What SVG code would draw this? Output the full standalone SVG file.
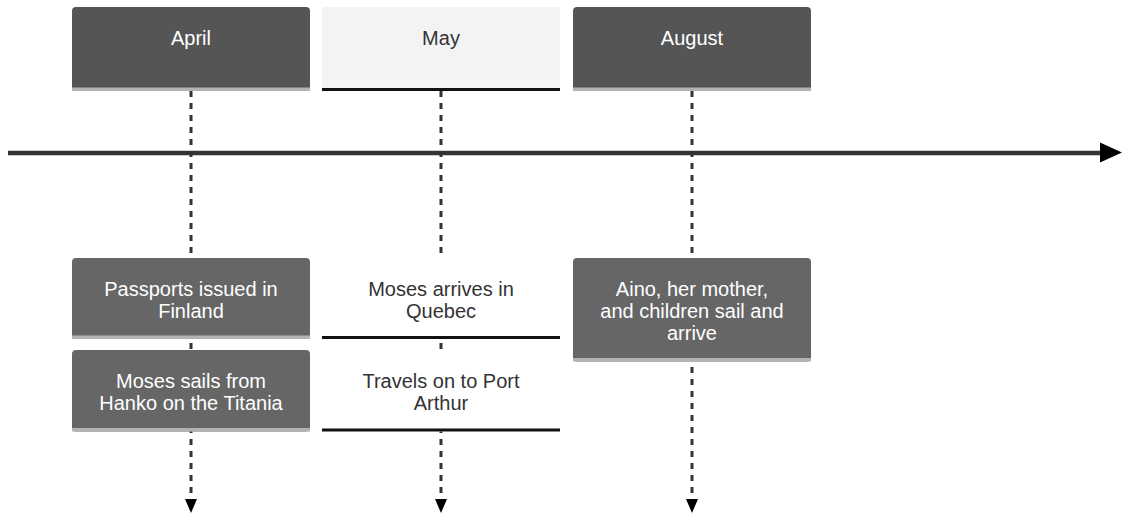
<svg xmlns="http://www.w3.org/2000/svg" width="1122" height="514" viewBox="0 0 1122 514">
  <style>
    text { font-family: "Liberation Sans", Arial, sans-serif; font-size: 20px; text-anchor: middle; }
    .light { fill: #ffffff; }
    .dark { fill: #333333; }
    .head { fill: #555555; }
    .event { fill: #666666; }
    .band { fill: #b3b3b3; }
    .rule { fill: #111111; }
    .plain { fill: #ffffff; }
    .pale { fill: #f3f3f3; }
    .drop { stroke: #333333; stroke-width: 3; stroke-dasharray: 6 6; fill: none; }
  </style>
  <defs>
    <path id="tipDown" d="M-6,0 L6,0 L0,14 Z" fill="#000000"/>
  </defs>

  <!-- connectors: month drop lines and the main timeline -->
  <g id="connectors">
    <line class="drop" x1="191" y1="91" x2="191" y2="499"/>
    <line class="drop" x1="441" y1="91" x2="441" y2="499"/>
    <line class="drop" x1="692" y1="91" x2="692" y2="499"/>
    <use href="#tipDown" x="191" y="499"/>
    <use href="#tipDown" x="441" y="499"/>
    <use href="#tipDown" x="692" y="499"/>
    <g id="timeline">
      <line x1="8" y1="153" x2="1101" y2="153" stroke="#333333" stroke-width="4.5"/>
      <path d="M1100,142.5 L1122,152.5 L1100,162.5 Z" fill="#000000"/>
    </g>
  </g>

  <!-- month headers -->
  <g id="april">
    <rect class="head" x="72" y="7" width="238" height="84" rx="4"/>
    <rect class="band" x="72" y="87.5" width="238" height="3.5"/>
    <text class="light" x="191" y="45">April</text>
  </g>
  <g id="may">
    <rect class="pale" x="322" y="7" width="238" height="84" rx="4"/>
    <rect class="rule" x="322" y="88" width="238" height="3"/>
    <text class="dark" x="441" y="45">May</text>
  </g>
  <g id="august">
    <rect class="head" x="573" y="7" width="238" height="84" rx="4"/>
    <rect class="band" x="573" y="87.5" width="238" height="3.5"/>
    <text class="light" x="692" y="45">August</text>
  </g>

  <!-- April events -->
  <g id="passports">
    <rect class="event" x="72" y="258" width="238" height="81" rx="4"/>
    <rect class="band" x="72" y="335.5" width="238" height="3.5"/>
    <text class="light" x="191" y="295.5">Passports issued in</text>
    <text class="light" x="191" y="317.5">Finland</text>
  </g>
  <g id="moses-sails">
    <rect class="event" x="72" y="350" width="238" height="81.5" rx="4"/>
    <rect class="band" x="72" y="428" width="238" height="3.5"/>
    <text class="light" x="191" y="387.5">Moses sails from</text>
    <text class="light" x="191" y="409.5">Hanko on the Titania</text>
  </g>

  <!-- May events -->
  <g id="moses-arrives">
    <rect class="plain" x="322" y="258" width="238" height="81"/>
    <rect class="rule" x="322" y="336" width="238" height="3"/>
    <text class="dark" x="441" y="295.5">Moses arrives in</text>
    <text class="dark" x="441" y="317.5">Quebec</text>
  </g>
  <g id="travels-on">
    <rect class="plain" x="322" y="350" width="238" height="81.5"/>
    <rect class="rule" x="322" y="428.5" width="238" height="3"/>
    <text class="dark" x="441" y="387.5">Travels on to Port</text>
    <text class="dark" x="441" y="409.5">Arthur</text>
  </g>

  <!-- August event -->
  <g id="aino-sails">
    <rect class="event" x="573" y="258" width="238" height="103.5" rx="4"/>
    <rect class="band" x="573" y="358" width="238" height="3.5"/>
    <text class="light" x="692" y="295.5">Aino, her mother,</text>
    <text class="light" x="692" y="317.5">and children sail and</text>
    <text class="light" x="692" y="339.5">arrive</text>
  </g>
</svg>
